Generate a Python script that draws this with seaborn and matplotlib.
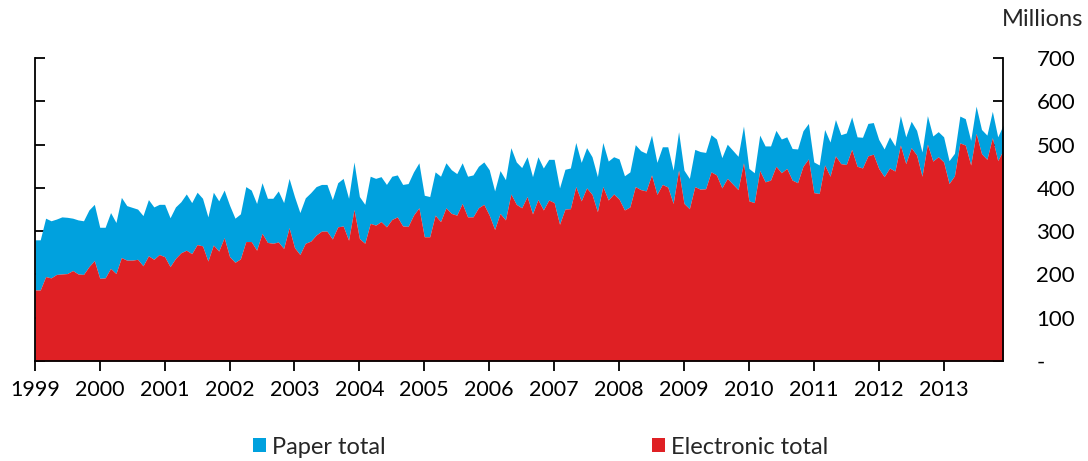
# stacked area: paper vs electronic payments, monthly 1999-2013
import numpy as np
import matplotlib.pyplot as plt
import seaborn as sns

sns.set_theme(style='white')
plt.rcParams['font.family'] = ['Lato', 'DejaVu Sans']

# monthly totals (millions), Jan 1999 .. Dec 2013
total = [
    280, 280, 330, 324, 328, 333, 332, 330, 326, 324, 349, 362,  # 1999
    309, 309, 343, 320, 378, 359, 355, 351, 336, 373, 356, 362,  # 2000
    362, 331, 356, 368, 386, 366, 390, 376, 333, 390, 370, 395,  # 2001
    360, 330, 340, 403, 395, 364, 412, 376, 376, 393, 366, 422,  # 2002
    380, 343, 377, 389, 403, 408, 408, 373, 412, 422, 376, 460,  # 2003
    380, 362, 427, 422, 426, 408, 427, 430, 408, 410, 437, 458,  # 2004
    383, 380, 437, 427, 458, 442, 433, 458, 427, 430, 450, 460,  # 2005
    442, 393, 440, 419, 493, 460, 447, 472, 426, 472, 446, 466,  # 2006
    466, 400, 443, 446, 505, 459, 493, 472, 426, 505, 462, 472,  # 2007
    467, 428, 437, 500, 486, 480, 522, 459, 495, 495, 441, 530,  # 2008
    441, 422, 489, 484, 482, 523, 513, 470, 501, 487, 473, 543,  # 2009
    445, 435, 522, 497, 497, 533, 513, 518, 491, 490, 532, 549,  # 2010
    460, 453, 535, 506, 558, 523, 527, 564, 518, 517, 549, 551,  # 2011
    512, 490, 518, 497, 567, 518, 554, 533, 483, 567, 520, 530,  # 2012
    518, 463, 480, 566, 560, 510, 589, 535, 522, 577, 518, 545,  # 2013
]

electronic = [
    164, 164, 195, 192, 200, 201, 202, 209, 201, 200, 218, 232,
    191, 192, 214, 202, 239, 233, 233, 235, 220, 243, 235, 246,
    241, 218, 237, 250, 256, 248, 269, 266, 231, 268, 254, 285,
    241, 228, 236, 276, 276, 256, 295, 274, 272, 275, 260, 308,
    262, 246, 272, 277, 291, 300, 300, 282, 310, 312, 279, 350,
    283, 272, 318, 314, 322, 310, 327, 333, 312, 311, 337, 354,
    287, 287, 337, 322, 354, 341, 337, 364, 333, 333, 354, 362,
    337, 304, 341, 326, 386, 362, 354, 380, 340, 373, 349, 372,
    366, 316, 351, 352, 403, 370, 400, 385, 345, 403, 372, 386,
    374, 349, 356, 403, 396, 393, 430, 385, 408, 402, 364, 441,
    364, 352, 403, 397, 398, 437, 430, 400, 422, 409, 396, 458,
    370, 366, 440, 414, 418, 450, 435, 445, 418, 412, 450, 467,
    389, 387, 453, 427, 474, 456, 454, 489, 450, 446, 474, 478,
    445, 426, 446, 439, 499, 456, 493, 476, 427, 501, 462, 472,
    460, 410, 428, 504, 499, 453, 526, 479, 466, 516, 463, 487,
]

years = list(range(1999, 2014))
yticks = [0, 100, 200, 300, 400, 500, 600, 700]
ylabels = ['-', '100', '200', '300', '400', '500', '600', '700']

blue = '#00A1DE'
red = '#DF2024'

x = 1999 + np.arange(len(total)) / 12

fig = plt.figure(figsize=(10.88, 4.61), dpi=100)
ax = fig.add_axes([0.032, 0.217, 0.890, 0.657])

ax.fill_between(x, electronic, total, color=blue, lw=0, label='Paper total')
ax.fill_between(x, 0, electronic, color=red, lw=0, label='Electronic total')

ax.set_xlim(x[0], x[-1])
ax.set_ylim(0, 700)
ax.set_xticks(years)
ax.set_xticklabels([str(y) for y in years])
ax.set_yticks(yticks)
ax.set_yticklabels(ylabels)

for side in ['left', 'right', 'bottom']:
    ax.spines[side].set_visible(True)
    ax.spines[side].set_color('black')
    ax.spines[side].set_linewidth(1.3)
ax.spines['top'].set_visible(False)

ax.tick_params(axis='y', left=True, right=True, labelleft=False, labelright=True,
               direction='in', length=7, width=1.3, pad=24, labelsize=16, colors='black')
ax.tick_params(axis='x', bottom=True, direction='out', length=7, width=1.3,
               pad=7, labelsize=15.5, colors='black')
ax.grid(False)

fig.text(0.958, 0.958, 'Millions', ha='center', va='center', fontsize=17)

handles, labels = ax.get_legend_handles_labels()
fig.legend(handles, labels, loc='center', bbox_to_anchor=(0.497, 0.03), ncol=2,
           frameon=False, fontsize=17, handlelength=0.55, handleheight=0.55,
           handletextpad=0.25, columnspacing=11.3)

fig.savefig('out.png', dpi=100)
